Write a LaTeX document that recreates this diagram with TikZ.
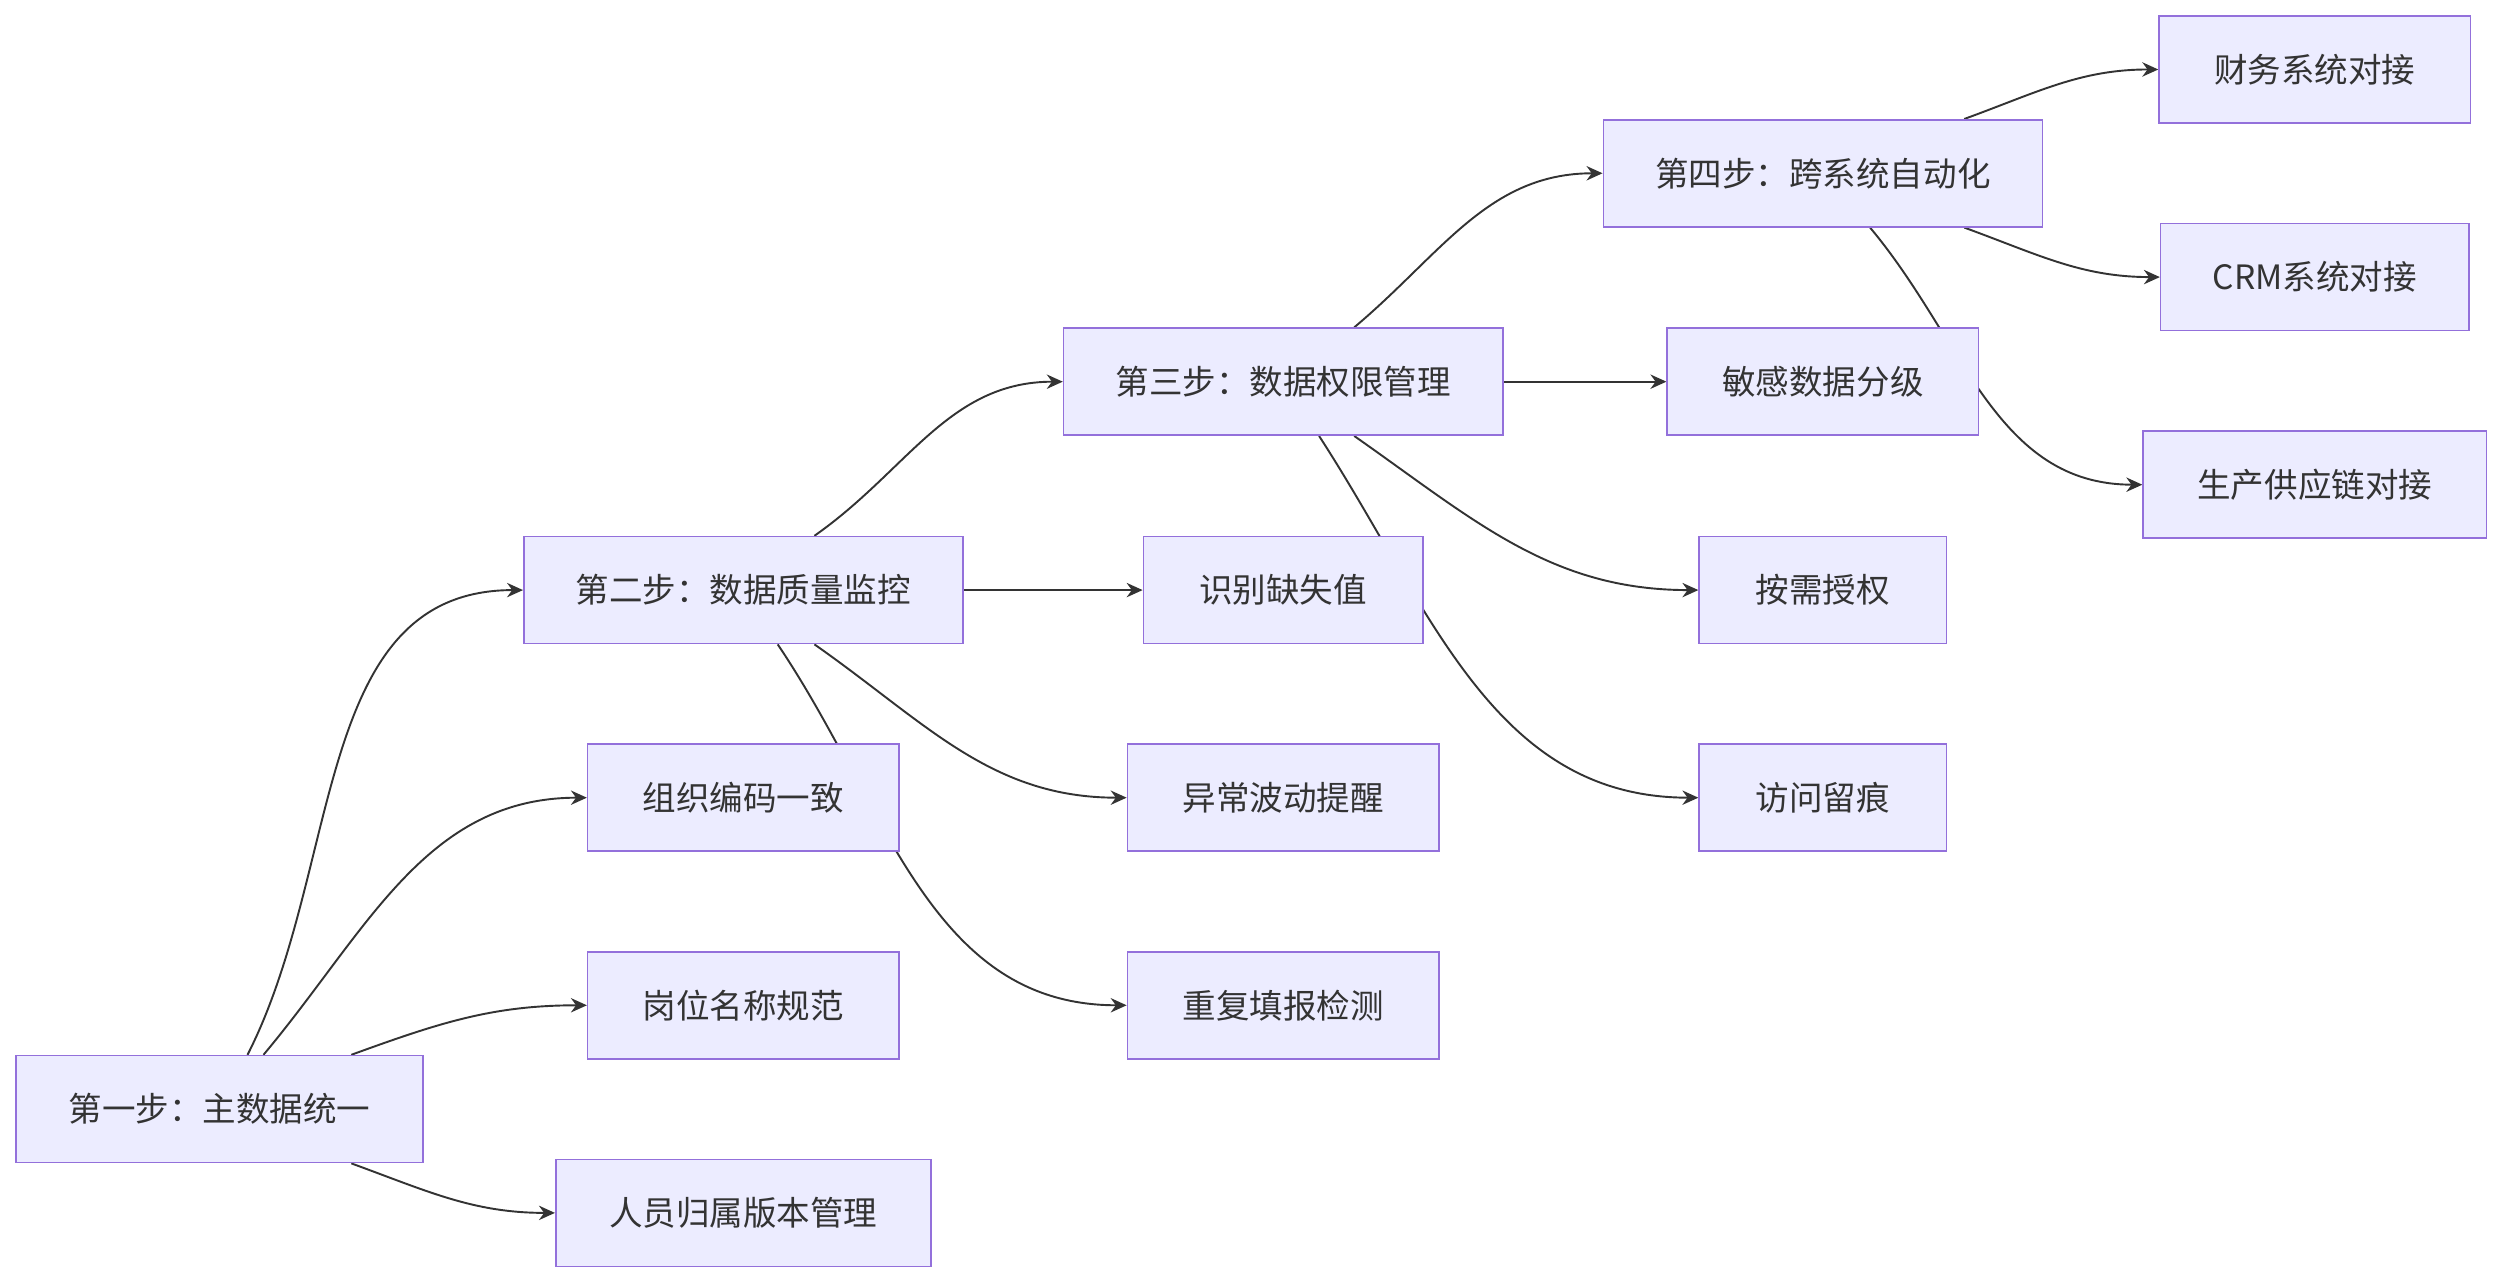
\documentclass[tikz,border=0pt]{standalone}
\usepackage{fontspec}
\setmainfont{Noto Sans CJK SC}
\usetikzlibrary{calc,backgrounds,arrows.meta}
\definecolor{boxfill}{HTML}{ECECFF}
\definecolor{boxline}{HTML}{9370DB}
\definecolor{linecol}{HTML}{333333}
\begin{document}
\begin{tikzpicture}[
          x=0.5pt, y=0.5pt,
          stage/.style={
            draw=boxline,
            fill=boxfill,
            line width=0.5pt,
            minimum height=33.5pt,
            inner sep=0pt,
            font=\fontsize{10.5}{12}\selectfont,
            text=linecol,
          },
          edge/.style={
            draw=linecol,
            line width=0.6pt,
            -{Stealth[length=5pt,width=4.5pt]},
          },
        ]
          \useasboundingbox (0,0) rectangle (1568,-804);
          % stages
          \node[stage, minimum width=127.5pt](s1) at (137.5,-694.5){第一步：主数据统一};
          \node[stage, minimum width=137.5pt](s2) at (465.5,-369.5){第二步：数据质量监控};
          \node[stage, minimum width=137.5pt](s3) at (803.5,-239){第三步：数据权限管理};
          \node[stage, minimum width=137.5pt](s4) at (1141.5,-108.5){第四步：跨系统自动化};
          % tasks
          \node[stage, minimum width=97.5pt](a1) at (465.5,-499.5){组织编码一致};
          \node[stage, minimum width=97.5pt](a2) at (465.5,-629.5){岗位名称规范};
          \node[stage, minimum width=117.5pt](a3) at (465.5,-759.5){人员归属版本管理};
          \node[stage, minimum width=87.5pt](b1) at (803.5,-369.5){识别缺失值};
          \node[stage, minimum width=97.5pt](b2) at (803.5,-499.5){异常波动提醒};
          \node[stage, minimum width=97.5pt](b3) at (803.5,-629.5){重复填报检测};
          \node[stage, minimum width=97.5pt](c1) at (1141.5,-239){敏感数据分级};
          \node[stage, minimum width=77.5pt](c2) at (1141.5,-369.5){按需授权};
          \node[stage, minimum width=77.5pt](c3) at (1141.5,-499.5){访问留痕};
          \node[stage, minimum width=97.5pt](d1) at (1449.5,-43.5){财务系统对接};
          \node[stage, minimum width=96.5pt](d2) at (1449.5,-173.5){CRM系统对接};
          \node[stage, minimum width=107.5pt](d3) at (1449.5,-303.5){生产供应链对接};
          \begin{scope}[on background layer]
            \draw[edge] ($(s1.north)+(17.5,0)$) to[out=63,in=180] (s2.west);
            \draw[edge] ($(s1.north)+(27.5,0)$) to[out=50,in=180] (a1.west);
            \draw[edge] ($(s1.north)+(82.5,0)$) to[out=20,in=180] (a2.west);
            \draw[edge] ($(s1.south)+(82.5,0)$) to[out=-20,in=180] (a3.west);
            \draw[edge] ($(s2.north)+(44.5,0)$) to[out=35,in=180] (s3.west);
            \draw[edge] (s2.east) -- (b1.west);
            \draw[edge] ($(s2.south)+(44.5,0)$) to[out=-35,in=180] (b2.west);
            \draw[edge] ($(s2.south)+(21.5,0)$) to[out=-56,in=180] (b3.west);
            \draw[edge] ($(s3.north)+(44.5,0)$) to[out=40,in=180] (s4.west);
            \draw[edge] (s3.east) -- (c1.west);
            \draw[edge] ($(s3.south)+(44.5,0)$) to[out=-35,in=180] (c2.west);
            \draw[edge] ($(s3.south)+(22.5,0)$) to[out=-57,in=180] (c3.west);
            \draw[edge] ($(s4.north)+(88.5,0)$) to[out=20,in=180] (d1.west);
            \draw[edge] ($(s4.south)+(88.5,0)$) to[out=-20,in=180] (d2.west);
            \draw[edge] ($(s4.south)+(29.5,0)$) to[out=-50,in=180] (d3.west);
          \end{scope}
        \end{tikzpicture}
\end{document}
